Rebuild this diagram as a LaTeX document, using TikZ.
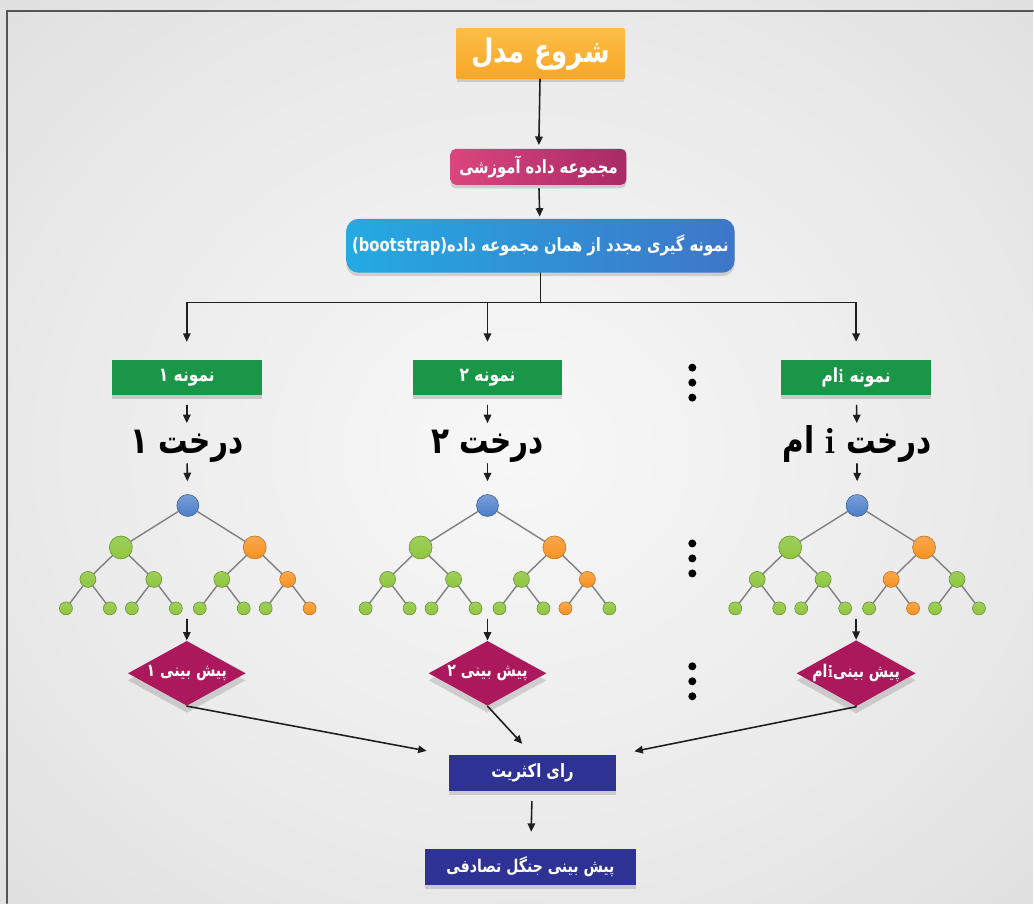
\documentclass[tikz,border=0pt]{standalone}
\usepackage{fontspec}
\usepackage{tikz}
\usetikzlibrary{calc,positioning,arrows.meta,shapes.geometric,shadows}
\newfontfamily\fa[Script=Arabic,FakeStretch=0.8]{DejaVu Sans}
\TeXXeTstate=1
\newcommand{\fatxt}[1]{\fa\beginR #1\endR}
\newcommand{\ith}{\beginL{\rmfamily\bfseries i}\endL}
\definecolor{startorange}{RGB}{247,166,38}
\definecolor{startlight}{RGB}{252,190,70}
\definecolor{trainpink}{RGB}{218,70,126}
\definecolor{trainplum}{RGB}{168,42,102}
\definecolor{bootcyan}{RGB}{36,170,226}
\definecolor{bootblue}{RGB}{62,118,200}
\definecolor{samplegreen}{RGB}{26,150,72}
\definecolor{predmagenta}{RGB}{172,24,92}
\definecolor{votenavy}{RGB}{46,50,148}
\definecolor{treeblue}{RGB}{76,126,202}
\definecolor{treegreen}{RGB}{142,198,62}
\definecolor{treeorange}{RGB}{247,146,32}
\definecolor{framegray}{RGB}{85,85,85}
\pgfdeclareradialshading{bgshade}{\pgfpoint{0bp}{0bp}}{%
  color(0bp)=(white!97!black); color(22bp)=(white!92!black);
  color(42bp)=(white!86!black); color(50bp)=(white!83!black)}
\tikzset{
  arr/.style={line width=0.9pt, black!88, -{Triangle[length=1.7mm,width=1.5mm]}},
  busline/.style={line width=0.9pt, black!88},
  frame/.style={line width=1.2pt, framegray},
  obox/.style={top color=startlight, bottom color=startorange, text=white,
               minimum width=3.36cm, minimum height=1cm, inner sep=2pt,
               font=\fontsize{18.5}{20}\selectfont\bfseries,
               drop shadow={shadow xshift=0pt, shadow yshift=-2pt, opacity=0.3}},
  mbox/.style={left color=trainpink, right color=trainplum, text=white,
               rounded corners=3pt, minimum width=3.52cm, minimum height=0.72cm,
               font=\fontsize{10.5}{12}\selectfont\bfseries,
               drop shadow={shadow xshift=0pt, shadow yshift=-2pt, opacity=0.3}},
  cbox/.style={left color=bootcyan, right color=bootblue, text=white,
               rounded corners=7pt, minimum width=7.74cm, minimum height=1.08cm,
               font=\fontsize{10.5}{12}\selectfont\bfseries,
               drop shadow={shadow xshift=0pt, shadow yshift=-2pt, opacity=0.3}},
  gbox/.style={fill=samplegreen, text=white, minimum width=3cm, minimum height=0.7cm,
               font=\fontsize{11}{13}\selectfont\bfseries,
               drop shadow={shadow xshift=0pt, shadow yshift=-2pt, opacity=0.35}},
  tlabel/.style={inner sep=0pt, minimum height=0.8cm, text height=0.5cm, text depth=0.1cm,
                 font=\fontsize{21}{23}\selectfont\bfseries},
  pdia/.style={diamond, shape aspect=1.8, fill=predmagenta, text=white, inner sep=0pt,
               minimum width=2.36cm, minimum height=1.3cm,
               font=\fontsize{10}{12}\selectfont\bfseries,
               drop shadow={shadow xshift=0pt, shadow yshift=-4pt, opacity=0.3}},
  nbox/.style={fill=votenavy, text=white, minimum height=0.72cm,
               drop shadow={shadow xshift=0pt, shadow yshift=-2pt, opacity=0.3}},
  rootdot/.style={circle, inner sep=0pt, minimum size=0.44cm,
                  top color=treeblue!75!white, bottom color=treeblue,
                  draw=treeblue!70!black, line width=0.3pt},
  gbig/.style={circle, inner sep=0pt, minimum size=0.46cm,
               top color=treegreen!85!white, bottom color=treegreen,
               draw=treegreen!70!black, line width=0.3pt},
  obig/.style={circle, inner sep=0pt, minimum size=0.46cm,
               top color=treeorange!80!white, bottom color=treeorange,
               draw=treeorange!75!black, line width=0.3pt},
  gmid/.style={gbig, minimum size=0.32cm},
  omid/.style={obig, minimum size=0.32cm},
  gleaf/.style={gbig, minimum size=0.26cm},
  oleaf/.style={obig, minimum size=0.26cm},
  tedge/.style={line width=0.8pt, black!50},
  vdot/.style={circle, fill=black, inner sep=0pt, minimum size=0.16cm},
}
% one decision tree: #1 name, #2 centre x, #3 orange inner node, #4 orange leaf
\newcommand{\ftree}[4]{%
  \node[rootdot] (#1r) at (#2,506) {};
  \node[gbig] (#1a1) at (#2-67,548) {};
  \node[obig] (#1a2) at (#2+67,548) {};
  \draw[tedge] (#1r) -- (#1a1); \draw[tedge] (#1r) -- (#1a2);
  \foreach \k/\dx/\p in {1/-100/1,2/-34/1,3/34/2,4/100/2}{%
    \ifnum\k=#3 \def\st{omid}\else\def\st{gmid}\fi
    \node[\st] (#1b\k) at (#2+\dx,580) {};
    \draw[tedge] (#1a\p) -- (#1b\k);
  }
  \foreach \k/\dx/\p in {1/-122/1,2/-78/1,3/-56/2,4/-12/2,5/12/3,6/56/3,7/78/4,8/122/4}{%
    \ifnum\k=#4 \def\st{oleaf}\else\def\st{gleaf}\fi
    \node[\st] (#1c\k) at (#2+\dx,609) {};
    \draw[tedge] (#1b\p) -- (#1c\k);
  }
}

\begin{document}
\begin{tikzpicture}[x=0.02cm,y=-0.02cm,line cap=round]
  % ====== zemine ======
  \shade[shading=bgshade] (0,0) rectangle (1034,904);
  \draw[frame] (7,904) -- (7,11) -- (1034,11);
  \useasboundingbox (0,0) rectangle (1034,904);

  % ====== ust kisim ======
  \node[obox] (start) at (541,54)  {\fatxt{شروع مدل}};
  \node[mbox] (train) at (539,167) {\fatxt{مجموعه داده آموزشی}};
  \node[cbox] (boot)  at (541,246) {\fatxt{نمونه گیری مجدد از همان مجموعه داده\beginL(bootstrap)\endL}};
  \draw[arr, shorten >=2pt] (start) -- (train);
  \draw[arr, shorten <=2pt, shorten >=1pt] (train) -- (boot);

  % ====== dallanma ======
  \coordinate (bus) at (541,303);
  \node[gbox] (s1) at (187,378) {\fatxt{نمونه ۱}};
  \node[gbox] (s2) at (488,378) {\fatxt{نمونه ۲}};
  \node[gbox] (s3) at (857,378) {\fatxt{نمونه \ith ام}};
  \draw[busline] (boot) -- (bus);
  \draw[arr, shorten >=0.36cm] (bus) -| (s1);
  \draw[arr, shorten >=0.36cm] (bus) -| (s2);
  \draw[arr, shorten >=0.36cm] (bus) -| (s3);

  % ====== agac etiketleri ======
  \node[tlabel] (d1) at (187,444) {\fatxt{درخت ۱}};
  \node[tlabel] (d2) at (488,444) {\fatxt{درخت ۲}};
  \node[tlabel] (d3) at (858,444) {\fatxt{درخت \ith\ ام}};
  \foreach \n in {1,2,3}{
    \draw[arr, shorten <=0.2cm] (s\n) -- (d\n);
  }

  % ====== agaclar ======
  \ftree{ta}{188}{4}{8}
  \ftree{tb}{488}{4}{7}
  \ftree{tc}{858}{3}{6}
  \draw[arr, shorten >=0.26cm] (d1) -- (tar);
  \draw[arr, shorten >=0.26cm] (d2) -- (tbr);
  \draw[arr, shorten >=0.26cm] (d3) -- (tcr);

  % ====== noktalar ======
  \foreach \yy [count=\n] in {383,559,682}{
    \foreach \dy [count=\m] in {-15,0,15}
      \node[vdot] (e\n\m) at (693,\yy+\dy) {};
  }

  % ====== pish bini ======
  \node[pdia] (p1) at (187,674) {\fatxt{پیش بینی ۱}};
  \node[pdia] (p2) at (488,674) {\fatxt{پیش بینی ۲}};
  \node[pdia] (p3) at (857,674) {\fatxt{پیش بینی\ith ام}};
  \coordinate (q1) at (187,620);
  \coordinate (q2) at (488,620);
  \coordinate (q3) at (857,620);
  \foreach \n in {1,2,3}{
    \draw[arr] (q\n) -- (p\n);
  }

  % ====== ray aksariyat ======
  \node[nbox, minimum width=3.36cm, font=\fontsize{10.5}{12}\selectfont\bfseries]
    (vote) at (533,774) {\fatxt{رای اکثریت}};
  \node[nbox, minimum width=4.22cm, font=\fontsize{10}{12}\selectfont\bfseries]
    (final) at (531,868) {\fatxt{پیش بینی جنگل تصادفی}};
  \draw[arr, shorten >=0.44cm] (p1.south) -- (vote.north west);
  \draw[arr, shorten >=0.3cm]  (p2.south) -- (vote.north);
  \draw[arr, shorten >=0.36cm] (p3.south) -- (vote.north east);
  \draw[arr, shorten <=0.2cm, shorten >=0.34cm] (vote) -- (final);
\end{tikzpicture}
\end{document}
